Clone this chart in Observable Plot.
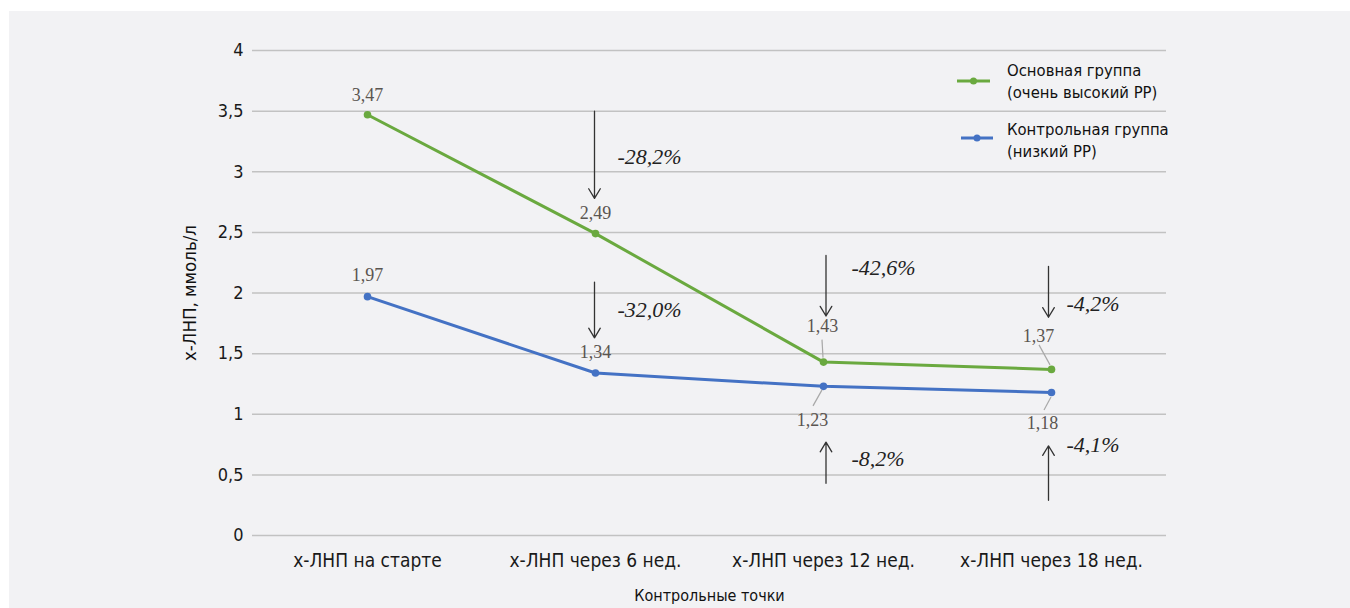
<!DOCTYPE html>
<html>
<head>
<meta charset="utf-8">
<script src="https://cdn.jsdelivr.net/npm/d3@7"></script>
<script src="https://cdn.jsdelivr.net/npm/@observablehq/plot@0.6"></script>
<style>
  html, body { margin: 0; padding: 0; background: #ffffff; }
  #chart { position: absolute; left: 9px; top: 11px; }
</style>
</head>
<body>
<div id="chart"></div>
<script>
const categories = ["х-ЛНП на старте", "х-ЛНП через 6 нед.", "х-ЛНП через 12 нед.", "х-ЛНП через 18 нед."];
const mainGroup = [3.47, 2.49, 1.43, 1.37];
const controlGroup = [1.97, 1.34, 1.23, 1.18];
const seriesNames = ["Основная группа\n(очень высокий РР)", "Контрольная группа\n(низкий РР)"];
const yTicks = [0, 0.5, 1, 1.5, 2, 2.5, 3, 3.5, 4];
const yLabel = "х-ЛНП, ммоль/л";
const xLabel = "Контрольные точки";

// change annotations (arrows + percent labels)
const changeText = ["-28,2%", "-32,0%", "-42,6%", "-4,2%", "-8,2%", "-4,1%"];
const changeCat = [1, 1, 2, 3, 2, 3];
const arrowFrom = [3.50, 2.09, 2.31, 2.22, 0.43, 0.29];
const arrowTo = [2.78, 1.63, 1.81, 1.80, 0.77, 0.74];
const changeLabelY = [3.12, 1.86, 2.21, 1.91, 0.635, 0.745];

const GREEN = "#6aa93f";
const BLUE = "#4472c4";
const SANS = "'Liberation Sans Narrow', 'DejaVu Sans Condensed', 'Roboto Condensed', 'Arial Narrow', sans-serif";
const SERIF = "'Liberation Serif', 'DejaVu Serif', serif";

const fmt = d => String(d).replace(".", ",");

const points = [
  ...categories.map((c, i) => ({x: c, y: mainGroup[i], s: "main", idx: i})),
  ...categories.map((c, i) => ({x: c, y: controlGroup[i], s: "ctrl", idx: i}))
];
const changes = changeText.map((t, i) => ({
  text: t, x: categories[changeCat[i]], col: changeCat[i],
  y1: arrowFrom[i], y2: arrowTo[i], ly: changeLabelY[i]
}));

// per-column pixel tweaks
const arrowDx = {1: -1, 2: 2.5, 3: -3};
const pctDx = {1: 22, 2: 28, 3: 15};

// value label placement per point: [dx, dy]
const labelOffset = {
  "main0": [0, -20], "main1": [0, -20], "main2": [-1, -36], "main3": [-13, -33],
  "ctrl0": [0, -21], "ctrl1": [0, -21], "ctrl2": [-11, 34], "ctrl3": [-9, 31]
};
// leader lines relative to the point: [x1, y1, x2, y2]
const leaderOffset = {
  "main2": [-1, -22, 0, -4],
  "main3": [-12, -24, -1, -4],
  "ctrl2": [-1, 4, -10, 20],
  "ctrl3": [0, 5, -7, 18]
};

const marks = [
  Plot.gridY(yTicks, {stroke: "#c2c2c2", strokeOpacity: 1, strokeWidth: 1.5}),
  Plot.axisY({ticks: yTicks, tickFormat: fmt, tickSize: 0, tickPadding: 9, fontSize: 18, label: null, fill: "#1a1a1a"}),
  Plot.axisX({tickSize: 0, tickPadding: 18, fontSize: 19, label: null, fill: "#1a1a1a"}),
  Plot.text([yLabel], {frameAnchor: "left", textAnchor: "middle", rotate: -90, dx: -62, fontSize: 18.5, fill: "#111"}),
  Plot.text([xLabel], {frameAnchor: "bottom", dy: 65, fontSize: 16, fill: "#111"}),
  // leader lines
  (index, scales) => {
    const g = d3.create("svg:g").attr("stroke", "#a8a8a8").attr("stroke-width", 1.2);
    for (const p of points) {
      const k = p.s + p.idx;
      const o = leaderOffset[k];
      if (!o) continue;
      const px = scales.x(p.x), py = scales.y(p.y);
      g.append("line").attr("x1", px + o[0]).attr("y1", py + o[1]).attr("x2", px + o[2]).attr("y2", py + o[3]);
    }
    return g.node();
  },
  Plot.line(points, {x: "x", y: "y", z: "s", stroke: d => d.s === "main" ? GREEN : BLUE, strokeWidth: 3, curve: "linear"}),
  Plot.dot(points, {x: "x", y: "y", r: 3.8, fill: d => d.s === "main" ? GREEN : BLUE, stroke: "none"}),
  ...Object.keys(labelOffset).map(k => Plot.text(points.filter(p => p.s + p.idx === k), {
    x: "x", y: "y", text: d => fmt(d.y), dx: labelOffset[k][0], dy: labelOffset[k][1],
    fontFamily: SERIF, fontSize: 18, fill: "#5a5550"
  })),
  ...[1, 2, 3].map(c => Plot.arrow(changes.filter(d => d.col === c), {
    x1: "x", x2: "x", y1: "y1", y2: "y2", dx: arrowDx[c],
    stroke: "#333", strokeWidth: 1.3, headLength: 13, headAngle: 62
  })),
  ...[1, 2, 3].map(c => Plot.text(changes.filter(d => d.col === c), {
    x: "x", y: "ly", text: "text", dx: pctDx[c], textAnchor: "start",
    fontFamily: SERIF, fontStyle: "italic", fontSize: 22, fill: "#222"
  })),
  // legend
  (index, scales, values, dims) => {
    const g = d3.create("svg:g").attr("transform", `translate(${dims.marginLeft},${dims.marginTop})`);
    const items = [
      {name: seriesNames[0], color: GREEN, x1: 705, x2: 738, ly: 31, ty: 20},
      {name: seriesNames[1], color: BLUE, x1: 709, x2: 741, ly: 88, ty: 79}
    ];
    for (const it of items) {
      g.append("line").attr("x1", it.x1).attr("x2", it.x2).attr("y1", it.ly).attr("y2", it.ly)
        .attr("stroke", it.color).attr("stroke-width", 3);
      g.append("circle").attr("cx", (it.x1 + it.x2) / 2).attr("cy", it.ly).attr("r", 3.5).attr("fill", it.color);
      const t = g.append("text").attr("x", 755).attr("y", it.ty).attr("font-size", 16.5)
        .attr("fill", "#111").attr("text-anchor", "start").attr("dominant-baseline", "central");
      it.name.split("\n").forEach((line, j) => {
        t.append("tspan").attr("x", 755).attr("dy", j === 0 ? 0 : 22).text(line);
      });
    }
    return g.node();
  }
];

const chart = Plot.plot({
  width: 1341,
  height: 597,
  marginLeft: 243,
  marginRight: 184,
  marginTop: 39,
  marginBottom: 73,
  style: {background: "#f2f2f4", fontFamily: SANS, fontSize: "17px", color: "#1a1a1a", overflow: "visible"},
  x: {type: "point", domain: categories, padding: 0.5, label: null},
  y: {domain: [0, 4], label: null},
  marks
});
document.getElementById("chart").appendChild(chart);
</script>
</body>
</html>
